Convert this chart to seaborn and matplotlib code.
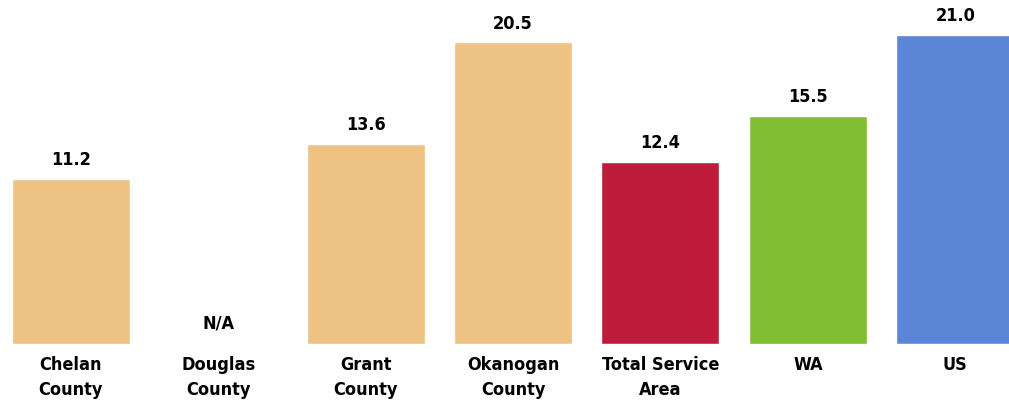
import numpy as np
import pandas as pd
import seaborn as sns
import matplotlib.pyplot as plt

categories = ['Chelan\nCounty', 'Douglas\nCounty', 'Grant\nCounty', 'Okanogan\nCounty',
              'Total Service\nArea', 'WA', 'US']
values = [11.2, np.nan, 13.6, 20.5, 12.4, 15.5, 21.0]
colors = ['#EDC283', '#EDC283', '#EDC283', '#EDC283', '#BE1C3A', '#80BE33', '#5B86D7']

sns.set_style('white')
plt.rcParams['font.family'] = ['DejaVu Sans']
plt.rcParams['font.stretch'] = 'condensed'
plt.rcParams['text.color'] = 'black'
plt.rcParams['xtick.color'] = 'black'

df = pd.DataFrame({'area': categories, 'value': values})

fig = plt.figure(figsize=(10.09, 4), dpi=100)
ax = fig.add_axes([-3 / 1009, 0.14, 1032 / 1009, 0.86])
sns.barplot(data=df, x='area', y='value', hue='area', palette=colors,
            width=0.8, saturation=1, legend=False, ax=ax)

ax.set_xlim(-0.5, 6.5)
ax.set_ylim(0, 23.38)
ax.set_xlabel('')
ax.set_ylabel('')
ax.set_yticks([])
sns.despine(ax=ax, left=True, bottom=True)
ax.tick_params(axis='x', length=0, pad=9)
for lab in ax.get_xticklabels():
    lab.set_fontsize(13)
    lab.set_fontweight('bold')
    lab.set_fontstretch('condensed')
    lab.set_linespacing(1.45)

for i, v in enumerate(values):
    if np.isnan(v):
        txt, y = 'N/A', 0
    else:
        txt, y = f'{v:.1f}', v
    ax.annotate(txt, (i, y), xytext=(0, 7 if not np.isnan(v) else 8),
                textcoords='offset points', ha='center', va='bottom',
                fontsize=13, fontweight='bold', fontstretch='condensed',
                annotation_clip=False)

fig.savefig('out.png', dpi=100)
